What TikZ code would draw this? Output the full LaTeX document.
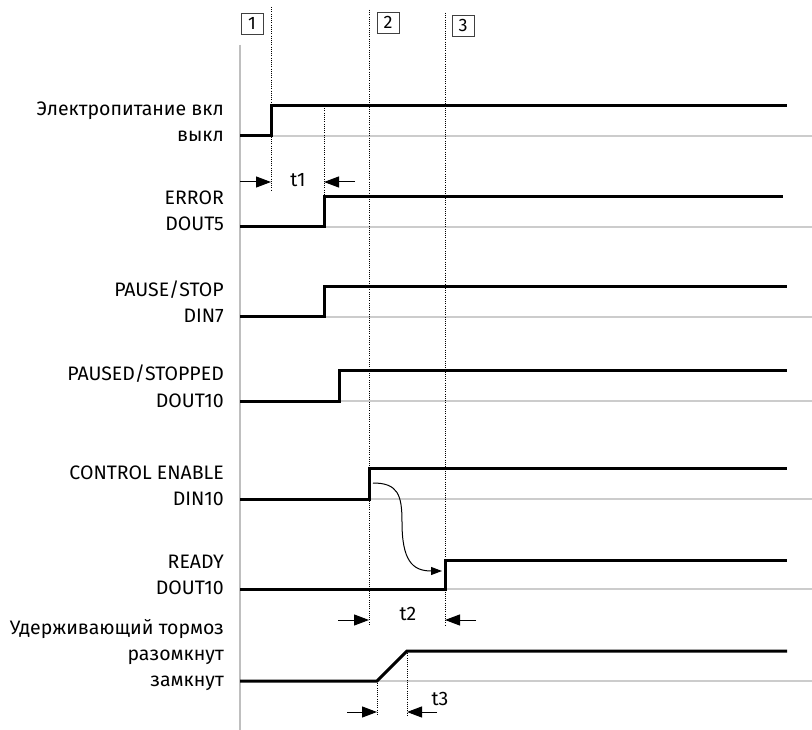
\documentclass[tikz,border=0pt]{standalone}
\usepackage{fontspec}
\setmainfont{Fira Sans}
\usetikzlibrary{arrows.meta}
\begin{document}
\begin{tikzpicture}[x=1pt,y=-1pt,
  sig/.style={line width=3pt, line join=miter, draw=black},
  baseln/.style={line width=1.5pt, draw=black!20},
  axisln/.style={line width=2.6pt, draw=black!25},
  dotln/.style={line width=1pt, dash pattern=on 1pt off 1.2pt},
  tarr/.style={line width=1pt, -{Triangle[length=15pt,width=11pt]}},
  curvarr/.style={line width=1pt, -{Triangle[length=11pt,width=8pt]}},
  lbl/.style={anchor=base east, inner sep=0pt, font=\fontsize{19.5}{22}\selectfont},
  tlbl/.style={anchor=base, inner sep=0pt, font=\fontsize{19.5}{22}\selectfont},
  numbox/.style={draw=black!75, line width=0.8pt, minimum width=22pt, minimum height=21pt, inner sep=0pt, font=\fontsize{18}{20}\selectfont}
]
\useasboundingbox (0,0) rectangle (812,730);
\fill[white] (0,0) rectangle (812,730);

% axis
\coordinate (axtop) at (240,45);
\coordinate (axbot) at (240,730);
\draw[axisln] (axtop) -- (axbot);

% gray base lines
\foreach \yy [count=\i] in {136,227,317,401,499,589,681}{
  \coordinate (gl\i) at (240,\yy);
  \coordinate (gr\i) at (812,\yy);
  \draw[baseln] (gl\i) -- (gr\i);
}

% dotted marker lines
\coordinate (d1a) at (271,7);   \coordinate (d1b) at (271,190);
\coordinate (d4a) at (324,106); \coordinate (d4b) at (324,197);
\coordinate (d2a) at (369,10);  \coordinate (d2b) at (369,625);
\coordinate (d3a) at (445,13);  \coordinate (d3b) at (445,625);
\coordinate (d5a) at (377,681); \coordinate (d5b) at (377,716);
\coordinate (d6a) at (407,651); \coordinate (d6b) at (407,716);
\draw[dotln] (d1a) -- (d1b);
\draw[dotln] (d4a) -- (d4b);
\draw[dotln] (d2a) -- (d2b);
\draw[dotln] (d3a) -- (d3b);
\draw[dotln] (d5a) -- (d5b);
\draw[dotln] (d6a) -- (d6b);

% number boxes
\node[numbox] (n1) at (252,23.5) {1};
\node[numbox] (n2) at (388,22.5) {2};
\node[numbox] (n3) at (463,25.5) {3};

% signals
\coordinate (s1a) at (240,136); \coordinate (s1b) at (271,136); \coordinate (s1c) at (271,106); \coordinate (s1d) at (787,106);
\draw[sig] (s1a) -- (s1b) -- (s1c) -- (s1d);
\coordinate (s2a) at (240,227); \coordinate (s2b) at (324,227); \coordinate (s2c) at (324,197); \coordinate (s2d) at (783,197);
\draw[sig] (s2a) -- (s2b) -- (s2c) -- (s2d);
\coordinate (s3a) at (240,317); \coordinate (s3b) at (324,317); \coordinate (s3c) at (324,287); \coordinate (s3d) at (787,287);
\draw[sig] (s3a) -- (s3b) -- (s3c) -- (s3d);
\coordinate (s4a) at (240,401); \coordinate (s4b) at (339,401); \coordinate (s4c) at (339,370); \coordinate (s4d) at (787,370);
\draw[sig] (s4a) -- (s4b) -- (s4c) -- (s4d);
\coordinate (s5a) at (240,499); \coordinate (s5b) at (369,499); \coordinate (s5c) at (369,468); \coordinate (s5d) at (787,468);
\draw[sig] (s5a) -- (s5b) -- (s5c) -- (s5d);
\coordinate (s6a) at (240,589); \coordinate (s6b) at (445,589); \coordinate (s6c) at (445,560); \coordinate (s6d) at (787,560);
\draw[sig] (s6a) -- (s6b) -- (s6c) -- (s6d);
\coordinate (s7a) at (240,681); \coordinate (s7b) at (377,681); \coordinate (s7c) at (407,651); \coordinate (s7d) at (787,651);
\draw[sig] (s7a) -- (s7b) -- (s7c) -- (s7d);

% curved arrow
\coordinate (cvs) at (373,483);
\coordinate (cve) at (442,571);
\draw[curvarr] (cvs) .. controls (398,483) and (402,495) .. (402,522) .. controls (402,560) and (412,571) .. (cve);

% time arrows
\coordinate (t1la) at (240,182); \coordinate (t1ra) at (355,182);
\coordinate (t1lb) at (271,182); \coordinate (t1rb) at (324,182);
\draw[tarr] (t1la) -- (t1lb);
\draw[tarr] (t1ra) -- (t1rb);
\node[tlbl] (t1) at (298,187) {t1};

\coordinate (t2la) at (338,620); \coordinate (t2ra) at (476,620);
\coordinate (t2lb) at (369,620); \coordinate (t2rb) at (445,620);
\draw[tarr] (t2la) -- (t2lb);
\draw[tarr] (t2ra) -- (t2rb);
\node[tlbl] (t2) at (408,620) {t2};

\coordinate (t3la) at (347,712); \coordinate (t3ra) at (437,712);
\coordinate (t3lb) at (377,712); \coordinate (t3rb) at (407,712);
\draw[tarr] (t3la) -- (t3lb);
\draw[tarr] (t3ra) -- (t3rb);
\node[tlbl] (t3) at (440,705) {t3};

% labels
\node[lbl] (l1a) at (224,116) {Электропитание вкл};
\node[lbl] (l1b) at (224,142) {выкл};
\node[lbl] (l2a) at (224,205) {ERROR};
\node[lbl] (l2b) at (224,231) {DOUT5};
\node[lbl] (l3a) at (224,297) {PAUSE/STOP};
\node[lbl] (l3b) at (224,323) {DIN7};
\node[lbl] (l4a) at (224,381) {PAUSED/STOPPED};
\node[lbl] (l4b) at (224,407) {DOUT10};
\node[lbl] (l5a) at (224,479) {CONTROL ENABLE};
\node[lbl] (l5b) at (224,505) {DIN10};
\node[lbl] (l6a) at (224,568) {READY};
\node[lbl] (l6b) at (224,594) {DOUT10};
\node[lbl] (l7a) at (224,634) {Удерживающий тормоз};
\node[lbl] (l7b) at (224,660) {разомкнут};
\node[lbl] (l7c) at (224,686) {замкнут};
\end{tikzpicture}
\end{document}
